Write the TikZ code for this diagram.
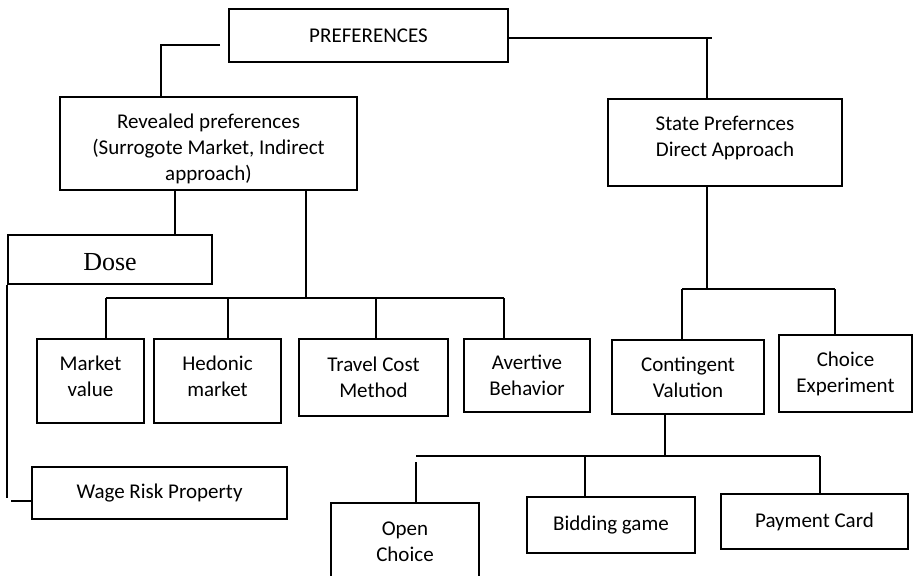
\documentclass[tikz,border=0pt]{standalone}
\usepackage{fontspec}
\setmainfont{Carlito}
\newfontfamily\dosefont{Liberation Serif}
\tikzset{
  box/.style={draw, rectangle, align=center, inner sep=0pt,
    font=\fontsize{21}{26}\selectfont},
  tx/.style={align=center, inner sep=0pt, font=\fontsize{21}{26}\selectfont},
  conn/.style={line width=1.8pt}
  }

\begin{document}
\begin{tikzpicture}[x=1pt, y=-1pt, line width=2pt]
    \useasboundingbox (0,0) rectangle (914,576);

    % top level
    \node [box, minimum width=279pt, minimum height=53pt] (pref) at (368.5,35.5) {PREFERENCES};
    \node [box, minimum width=297pt, minimum height=93pt,
      label={[tx, yshift=-5pt]center:{Revealed preferences\\(Surrogote Market, Indirect\\approach)}}]
      (revealed) at (208.5,143.5) {};
    \node [box, minimum width=234pt, minimum height=87pt,
      label={[tx, yshift=5pt]center:{State Prefernces\\Direct Approach}}]
      (state) at (725,142.5) {};

    % revealed branch
    \node [box, minimum width=204pt, minimum height=49pt,
      label={[tx, yshift=-3pt, font=\dosefont\fontsize{26}{30}\selectfont]center:Dose}]
      (dose) at (110,259.5) {};
    \node [box, minimum width=107pt, minimum height=84pt,
      label={[tx, yshift=5pt]center:{Market\\value}}] (market) at (90.5,381) {};
    \node [box, minimum width=127pt, minimum height=84pt,
      label={[tx, yshift=5pt]center:{Hedonic\\market}}] (hedonic) at (217.5,381) {};
    \node [box, minimum width=149pt, minimum height=77pt] (travel) at (373.5,377.5) {Travel Cost\\Method};
    \node [box, minimum width=126pt, minimum height=73pt] (avertive) at (527,375.5) {Avertive\\Behavior};
    \node [box, minimum width=255pt, minimum height=52pt] (wage) at (159.5,493) {Wage Risk Property};

    % stated branch
    \node [box, minimum width=152pt, minimum height=74pt] (contingent) at (688,377) {Contingent\\Valution};
    \node [box, minimum width=133pt, minimum height=77pt] (choice) at (845.5,373.5) {Choice\\Experiment};
    \node [box, minimum width=148pt, minimum height=77pt] (open) at (405,541.5) {Open\\Choice};
    \node [box, minimum width=168pt, minimum height=56pt] (bidding) at (611,525) {Bidding game};
    \node [box, minimum width=187pt, minimum height=55pt] (payment) at (814.5,521.5) {Payment Card};

    % connectors from the top box
    \coordinate (pl) at (220,45);
    \coordinate (pr) at (707,38);
    \draw [conn] (pl) -| ([xshift=-47.5pt]revealed.north);
    \draw [conn] (pref.east |- pr) -- ([xshift=5pt]pr);
    \draw [conn] (pr) -- (pr |- state.north);

    % revealed preferences
    \coordinate (rd) at (175,235);
    \draw [conn] (rd |- revealed.south) -- (rd |- dose.north);
    \coordinate (lb) at (306,298);
    \draw [conn] (lb |- revealed.south) -- (lb);
    \draw [conn] (106,298) -- (504,298);
    \foreach \n/\x in {market/106, hedonic/228, travel/376, avertive/504} {
      \coordinate (t\n) at (\x,298);
      \draw [conn] (t\n) -- (t\n |- \n.north);
    }
    \draw [conn] (dose.south west) -- ++(0,213);
    \coordinate (wl) at (11,501);
    \draw [conn] (wl) -- (wl -| wage.west);

    % stated preferences
    \coordinate (sb) at (707,289);
    \draw [conn] (sb |- state.south) -- (sb);
    \draw [conn] (682,289) -- (835,289);
    \foreach \n/\x in {contingent/682, choice/835} {
      \coordinate (t\n) at (\x,289);
      \draw [conn] (t\n) -- (t\n |- \n.north);
    }
    \coordinate (cb) at (665,456);
    \draw [conn] (cb |- contingent.south) -- (cb);
    \draw [conn] (416,456) -- (820,456);
    \coordinate (topen) at (416,462);
    \draw [conn] (topen) -- (topen |- open.north);
    \foreach \n/\x in {bidding/585, payment/820} {
      \coordinate (t\n) at (\x,456);
      \draw [conn] (t\n) -- (t\n |- \n.north);
    }
\end{tikzpicture}
\end{document}
